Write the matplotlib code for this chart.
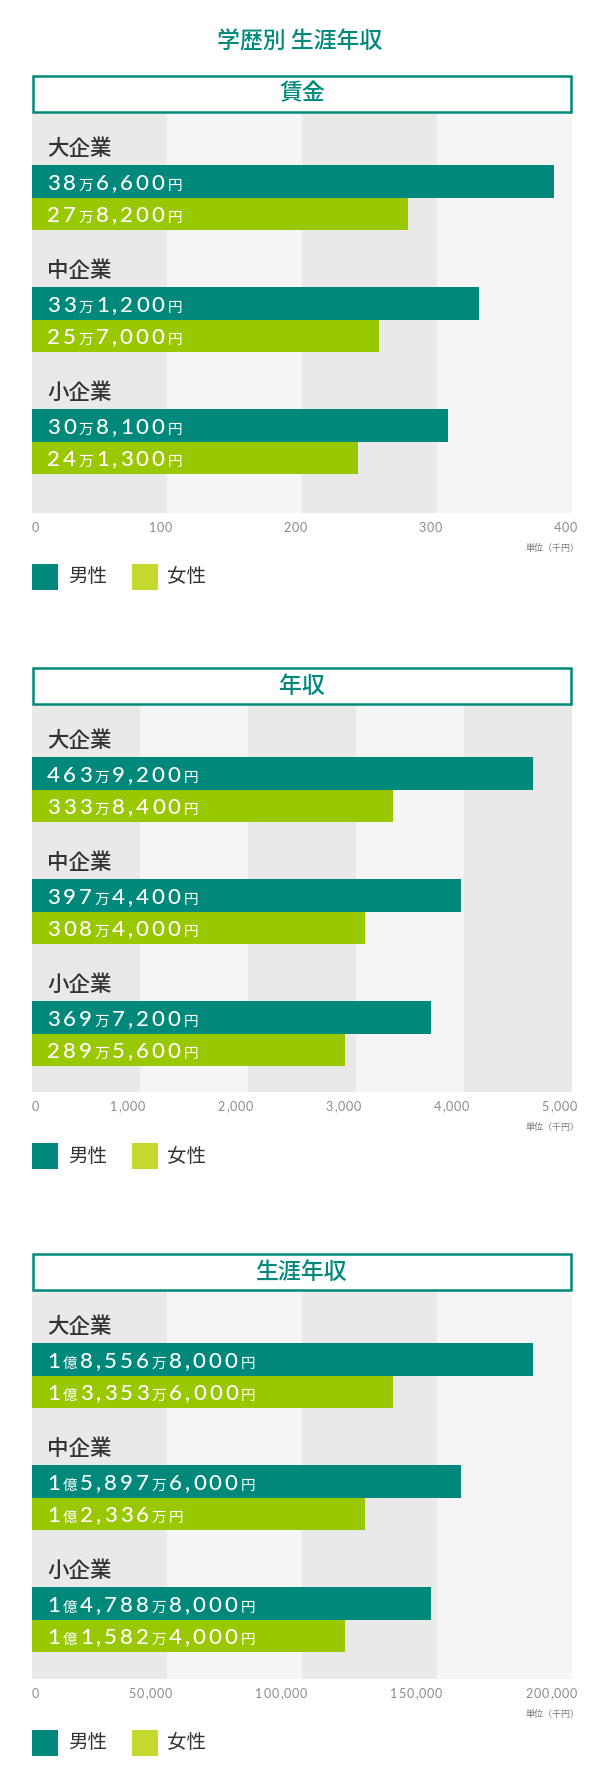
import matplotlib
matplotlib.use("Agg")
import matplotlib.pyplot as plt
from matplotlib.patches import Rectangle

W, H = 600, 1787
TEAL = "#00897b"
GREEN = "#99c800"
LEG_GREEN = "#c5d82e"
DARK_BAND = "#e9e9e9"
LIGHT_BAND = "#f5f5f5"
TXT = "#333333"
JP = ["Noto Sans CJK JP", "DejaVu Sans"]
NUM = ["Lato", "DejaVu Sans"]

title = "学歴別 生涯年収"
section_titles = ["賃金", "年収", "生涯年収"]
categories = ["大企業", "中企業", "小企業"]
legend_labels = ["男性", "女性"]
unit_label = "単位（千円）"

# 賃金 (千円)
wage_men = [386.6, 331.2, 308.1]
wage_women = [278.2, 257.0, 241.3]
wage_men_lbl = ["38万6,600円", "33万1,200円", "30万8,100円"]
wage_women_lbl = ["27万8,200円", "25万7,000円", "24万1,300円"]
wage_ticks = [0, 100, 200, 300, 400]

# 年収 (千円)
income_men = [4639.2, 3974.4, 3697.2]
income_women = [3338.4, 3084.0, 2895.6]
income_men_lbl = ["463万9,200円", "397万4,400円", "369万7,200円"]
income_women_lbl = ["333万8,400円", "308万4,000円", "289万5,600円"]
income_ticks = [0, 1000, 2000, 3000, 4000, 5000]

# 生涯年収 (千円)
life_men = [185568, 158976, 147888]
life_women = [133536, 123360, 115824]
life_men_lbl = ["1億8,556万8,000円", "1億5,897万6,000円", "1億4,788万8,000円"]
life_women_lbl = ["1億3,353万6,000円", "1億2,336万円", "1億1,582万4,000円"]
life_ticks = [0, 50000, 100000, 150000, 200000]

# レイアウト (px)
LEFT, RIGHT = 32, 572
PITCH = 122
BAR_H = 32.5
BAR_TOP = 52

fig = plt.figure(figsize=(W / 100, H / 100), dpi=100)
renderer = fig.canvas.get_renderer()


def fx(x):
    return x / W


def fy(y):
    return 1 - y / H


_cache = {}


def char_w(c, st):
    size, fam, sp, wt = st
    key = (c, size, fam[0], wt)
    if key not in _cache:
        t = fig.text(0, 0, c, fontsize=size, family=fam, weight=wt)
        _cache[key] = t.get_window_extent(renderer).width
        t.remove()
    return _cache[key]


def char_style(c, big, small):
    if c in "0123456789,":
        return big
    return small


def layout_width(s, big, small):
    w = 0
    for c in s:
        st = char_style(c, big, small)
        w += char_w(c, st) + st[2]
    return w


def spaced_text(x, y, s, big, small, color, align="left"):
    if align == "right":
        x = x - layout_width(s, big, small)
    for c in s:
        st = char_style(c, big, small)
        fig.text(fx(x), fy(y), c, fontsize=st[0], family=st[1], weight=st[3],
                 color=color, ha="left", va="baseline")
        x += char_w(c, st) + st[2]


# (size, family, spacing px, weight)
BAR_BIG = (16, NUM, 3.0, "medium")
BAR_SMALL = (10.5, JP, 2.5, "normal")
TICK_BIG = (9, NUM, 0.9, "normal")


def draw_section(top, plot_h, name, men, women, men_lbl, women_lbl, ticks):
    # 見出しボックス
    fig.add_artist(Rectangle((fx(33.2), fy(top + 36.8)), (RIGHT - LEFT - 2.4) / W, 35.6 / H,
                             transform=fig.transFigure, fill=False, ec=TEAL, lw=1.8))
    fig.text(fx(302), fy(top + 19), name, ha="center", va="center",
             fontsize=16.5, color=TEAL, family=JP, weight="medium")

    ptop = top + 38
    ax = fig.add_axes([fx(LEFT), fy(ptop + plot_h), (RIGHT - LEFT) / W, plot_h / H])
    ax.set_xlim(0, ticks[-1])
    ax.set_ylim(plot_h, 0)
    ax.axis("off")
    for i in range(len(ticks) - 1):
        ax.axvspan(ticks[i], ticks[i + 1], color=DARK_BAND if i % 2 == 0 else LIGHT_BAND, lw=0)

    ys = [BAR_TOP + i * PITCH for i in range(len(categories))]
    ax.barh(ys, men, height=BAR_H, align="edge", color=TEAL, lw=0)
    ax.barh([y + BAR_H for y in ys], women, height=BAR_H, align="edge", color=GREEN, lw=0)

    for i, cat in enumerate(categories):
        fig.text(fx(47), fy(ptop + 36 + i * PITCH), cat, ha="left", va="center",
                 fontsize=15.5, color=TXT, family=JP, weight="medium")
        spaced_text(47, ptop + ys[i] + BAR_H / 2 + 8.5, men_lbl[i], BAR_BIG, BAR_SMALL, "white")
        spaced_text(47, ptop + ys[i] + BAR_H * 1.5 + 8.5, women_lbl[i], BAR_BIG, BAR_SMALL, "white")

    # 目盛りラベル
    bottom = ptop + plot_h
    for t in ticks:
        s = f"{t:,}"
        if t == 0:
            spaced_text(LEFT, bottom + 19, s, TICK_BIG, TICK_BIG, "#8a8a8a")
        else:
            xp = LEFT + t / ticks[-1] * (RIGHT - LEFT) + 6
            spaced_text(xp, bottom + 19, s, TICK_BIG, TICK_BIG, "#8a8a8a", align="right")
    fig.text(fx(580), fy(bottom + 35), unit_label, ha="right", va="center",
             fontsize=6.5, color="#777777", family=JP)

    # 凡例
    yc = bottom + 64
    for xs, xt, col, lab in [(32, 68, TEAL, legend_labels[0]), (132, 167, LEG_GREEN, legend_labels[1])]:
        fig.add_artist(Rectangle((fx(xs), fy(yc + 13)), 26 / W, 26 / H,
                                 transform=fig.transFigure, color=col, lw=0))
        fig.text(fx(xt), fy(yc), lab, ha="left", va="center", fontsize=14, color=TXT, family=JP)


fig.text(fx(300), fy(42), title, ha="center", va="center", fontsize=16.5, color=TEAL,
         family=JP, weight="medium")

draw_section(75, 400, section_titles[0], wage_men, wage_women, wage_men_lbl, wage_women_lbl, wage_ticks)
draw_section(667, 387, section_titles[1], income_men, income_women, income_men_lbl, income_women_lbl, income_ticks)
draw_section(1253, 388, section_titles[2], life_men, life_women, life_men_lbl, life_women_lbl, life_ticks)

fig.savefig("out.png", dpi=100, facecolor="white")
